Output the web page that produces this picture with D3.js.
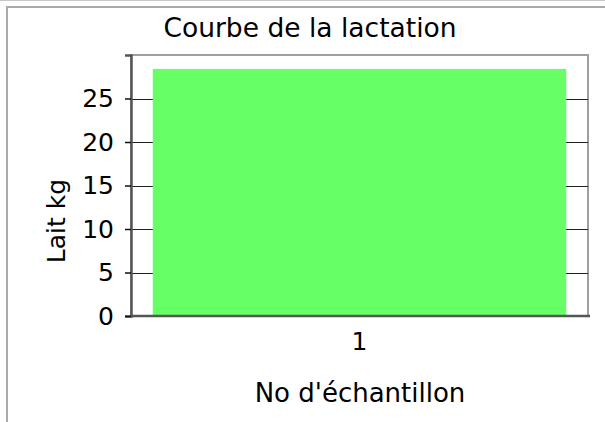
<!DOCTYPE html>
<html>
<head>
<meta charset="utf-8">
<script src="https://cdn.jsdelivr.net/npm/d3@7"></script>
<style>
  body { margin: 0; background: #fff; }
  svg { display: block; font-family: "DejaVu Sans", sans-serif; }
</style>
</head>
<body>
<svg id="chart" width="605" height="422"></svg>
<script>
const categories = ["1"];
const laitValues = [28.4];
const yTicks = [0, 5, 10, 15, 20, 25];
const chartTitle = "Courbe de la lactation";
const xTitle = "No d'échantillon";
const yTitle = "Lait kg";

const svg = d3.select("#chart");
const W = 605, H = 422;
const m = { left: 131, right: 588, top: 55, bottom: 316 };

// outer frame
svg.append("line").attr("x1", 0).attr("x2", W).attr("y1", 0.5).attr("y2", 0.5)
  .attr("stroke", "#c8c8c8").attr("stroke-width", 1);
svg.append("rect").attr("x", 7).attr("y", 7).attr("width", W + 20).attr("height", H + 20)
  .attr("fill", "none").attr("stroke", "#aaaaaa").attr("stroke-width", 2);

const x = d3.scaleBand().domain(categories).range([m.left, m.right]).padding(0.05);
const y = d3.scaleLinear().domain([0, 30]).range([m.bottom, m.top]);

// plot border (top/right)
svg.append("rect").attr("x", m.left).attr("y", m.top)
  .attr("width", m.right - m.left).attr("height", m.bottom - m.top)
  .attr("fill", "#fff").attr("stroke", "#a0a0a0").attr("stroke-width", 2);

// gridlines
svg.append("g").selectAll("line").data(yTicks.filter(d => d > 0)).join("line")
  .attr("x1", m.left).attr("x2", m.right)
  .attr("y1", d => Math.round(y(d)) + 0.5).attr("y2", d => Math.round(y(d)) + 0.5)
  .attr("stroke", "#222").attr("stroke-width", 1.2);

// bars
svg.append("g").selectAll("rect").data(laitValues).join("rect")
  .attr("x", (d, i) => x(categories[i]))
  .attr("width", x.bandwidth())
  .attr("y", d => y(d))
  .attr("height", d => y(0) - y(d))
  .attr("fill", "#66ff66");

// y axis
const yAxis = svg.append("g").attr("transform", `translate(${m.left},0)`)
  .call(d3.axisLeft(y).tickValues(yTicks).tickSize(6).tickPadding(11));
yAxis.select(".domain").attr("stroke", "#555").attr("stroke-width", 2.5);
yAxis.selectAll(".tick line").attr("stroke", "#111").attr("stroke-width", 1.5);
yAxis.selectAll("text").attr("font-size", 25).attr("fill", "#000")
  .attr("font-family", "DejaVu Sans, sans-serif");

// x axis
const xAxis = svg.append("g").attr("transform", `translate(0,${m.bottom})`)
  .call(d3.axisBottom(x).tickSize(0).tickPadding(16));
xAxis.select(".domain").attr("stroke", "#555").attr("stroke-width", 2.5)
  .attr("d", `M${m.left},0H${m.right + 2}`);
xAxis.selectAll("text").attr("font-size", 25).attr("fill", "#000")
  .attr("font-family", "DejaVu Sans, sans-serif");

// titles
svg.append("text").attr("x", 310).attr("y", 37).attr("text-anchor", "middle")
  .attr("font-size", 26.5).attr("fill", "#000").text(chartTitle);
svg.append("text").attr("x", 360).attr("y", 402).attr("text-anchor", "middle")
  .attr("font-size", 26).attr("fill", "#000").text(xTitle);
svg.append("text").attr("transform", "translate(65,221) rotate(-90)")
  .attr("text-anchor", "middle").attr("font-size", 25).attr("fill", "#000").text(yTitle);
</script>
</body>
</html>
